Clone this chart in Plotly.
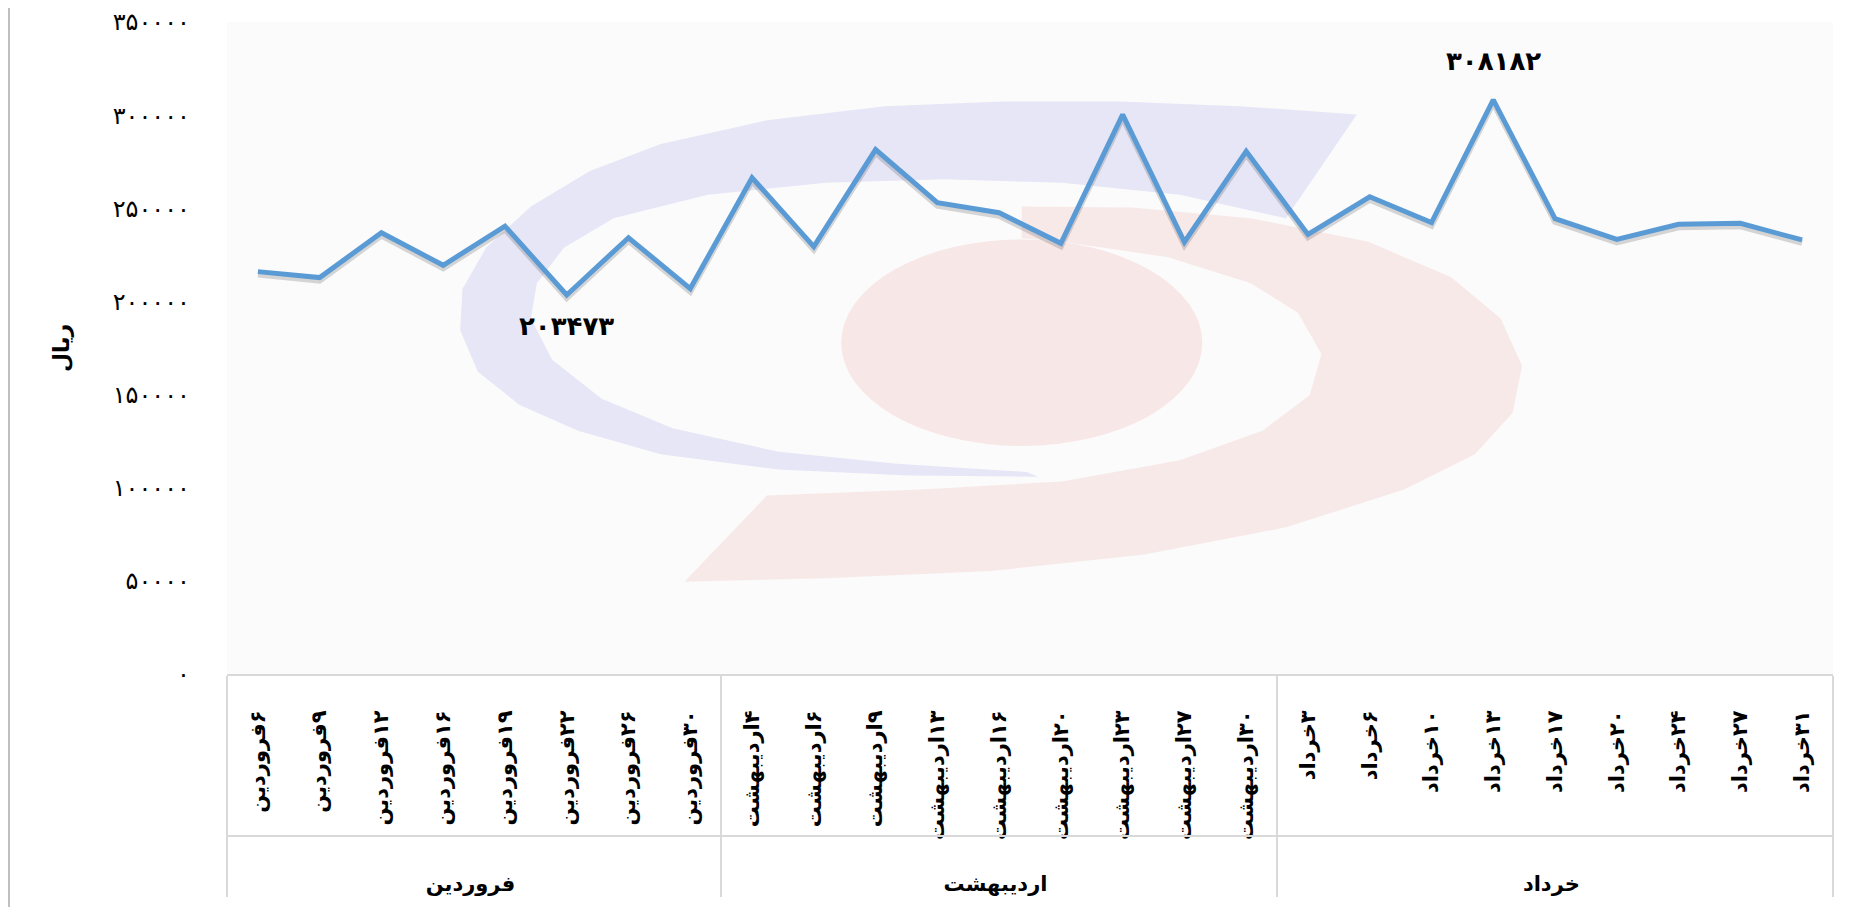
import plotly.graph_objects as go

# ---------------- data ----------------
month_names = ["فروردین", "اردیبهشت", "خرداد"]
month_counts = [8, 9, 9]
days = [6, 9, 12, 16, 19, 22, 26, 30,
        4, 6, 9, 13, 16, 20, 23, 27, 30,
        3, 6, 10, 13, 17, 20, 24, 27, 31]
prices = [216000, 212800, 236900, 219400, 240400, 203473, 234200, 206900,
          266400, 229400, 281500, 253000, 247600, 231200, 300300, 231900, 280600,
          236000, 256200, 242300, 308182, 244400, 233300, 241400, 241900, 233000]
y_ticks = [0, 50000, 100000, 150000, 200000, 250000, 300000, 350000]
labelled_points = [5, 20]          # indices of points carrying a data label
y_title = "ریال"

FA = str.maketrans("0123456789", "۰۱۲۳۴۵۶۷۸۹")
def fa(v):
    return str(v).translate(FA)

RLM = "\u200f"
PAD = "\u00a0" * 5 + RLM        # invisible trailing padding below each rotated label
months = [m for m, c in zip(month_names, month_counts) for _ in range(c)]
tick_labels = [f"{RLM}{fa(d)}{m}{PAD}" for d, m in zip(days, months)]
n_points = len(prices)

# ---------------- geometry helpers (styling only) ----------------
W, H = 1850, 907
OFF = 8                         # default body margin of the html page
PL, PR, PT, PB = 227, 1833, 22, 674   # plot area in screen pixels
S = 1850 / 1568.0
Y_MAX = 350000
SHADOW_PX = 3
shadow_shift = SHADOW_PX * Y_MAX / (PB - PT)

def px(xs):  # shrunk-pixel x -> paper
    return (xs * S - PL) / (PR - PL)

def py(ys):
    return (PB - ys * S) / (PB - PT)

def sx(x):  # screen px -> paper
    return (x - PL) / (PR - PL)

def sy(y):
    return (PB - y) / (PB - PT)

def path(pts):
    return "M " + " L ".join(f"{px(x):.4f},{py(y):.4f}" for x, y in pts) + " Z"

blue = [(1150, 97), (1050, 90), (950, 86), (850, 86), (750, 90), (650, 102), (560, 122),
        (500, 145), (450, 175), (412, 210), (392, 245), (390, 280), (405, 315), (440, 343),
        (490, 365), (560, 385), (660, 398), (770, 403), (880, 404),
        (870, 400), (760, 393), (660, 383), (570, 363), (510, 338), (468, 305), (450, 270),
        (455, 240), (478, 210), (520, 185), (600, 165), (700, 155), (800, 152), (900, 155),
        (1000, 165), (1090, 185)]
red = [(866, 175), (960, 176), (1060, 185), (1160, 205), (1230, 235), (1272, 270),
       (1290, 310), (1282, 350), (1250, 385), (1190, 415), (1090, 447), (970, 470),
       (840, 484), (700, 490), (580, 493),
       (650, 420), (780, 415), (900, 408), (1000, 390), (1070, 365), (1110, 335),
       (1120, 300), (1100, 265), (1060, 240), (990, 218), (900, 205), (866, 202)]

shapes = [
    dict(type="path", xref="paper", yref="paper", path=path(blue), layer="below",
         fillcolor="rgba(90,90,225,0.13)", line=dict(width=0)),
    dict(type="path", xref="paper", yref="paper", path=path(red), layer="below",
         fillcolor="rgba(225,60,60,0.09)", line=dict(width=0)),
    dict(type="circle", xref="paper", yref="paper", layer="below",
         x0=px(713), x1=px(1019), y0=py(378), y1=py(203),
         fillcolor="rgba(225,60,60,0.10)", line=dict(width=0)),
    # horizontal separator between tick labels and month labels
    dict(type="line", xref="paper", yref="paper", x0=0, x1=1,
         y0=sy(836), y1=sy(836), line=dict(color="#d9d9d9", width=2)),
    # left chart border
    dict(type="line", xref="paper", yref="paper",
         x0=sx(9), x1=sx(9), y0=sy(OFF), y1=sy(H + 20),
         line=dict(color="#bfbfbf", width=2)),
]

fig = go.Figure()
# soft drop shadow of the line (same data, drawn on a hidden axis offset by a few pixels)
fig.add_trace(go.Scatter(
    x=[months, tick_labels], y=prices, mode="lines", yaxis="y2",
    line=dict(color="rgba(60,60,60,0.20)", width=6), hoverinfo="skip", showlegend=False))
# main line, on a hidden overlay with the same range so it is drawn above the shadow
fig.add_trace(go.Scatter(
    x=[months, tick_labels], y=prices, mode="lines", yaxis="y3",
    line=dict(color="#5B9BD5", width=5), hoverinfo="skip", showlegend=False))

annotations = []
for i in labelled_points:
    above = prices[i] > 250000
    annotations.append(dict(
        x=i, y=prices[i], xref="x", yref="y", text=fa(prices[i]),
        showarrow=False, yshift=39 if above else -31,
        font=dict(family="DejaVu Sans", size=26, color="#000000", weight="bold")))
annotations.append(dict(
    x=sx(61), y=0.5, xref="paper", yref="paper", text=f"<b>{y_title}</b>",
    xanchor="center", yanchor="middle",
    textangle=-90, showarrow=False, font=dict(family="DejaVu Sans", size=22, color="#000")))

fig.update_layout(
    width=W, height=H,
    margin=dict(l=PL - OFF, r=W - (PR - OFF), t=PT - OFF, b=H - (PB - OFF)),
    paper_bgcolor="white", plot_bgcolor="#fbfbfb",
    shapes=shapes, annotations=annotations,
    xaxis=dict(type="multicategory", range=[-0.5, n_points - 0.5],
               showline=True, linecolor="#d9d9d9", linewidth=2,
               showgrid=False, zeroline=False, tickangle=-90, ticks="", automargin=False,
               showdividers=True, dividercolor="#d9d9d9", dividerwidth=2,
               ticklabelstandoff=26,
               tickfont=dict(family="DejaVu Sans", size=21, color="#000", weight="bold")),
    yaxis=dict(range=[0, Y_MAX], tickvals=y_ticks, ticktext=[fa(v) for v in y_ticks],
               showgrid=False, zeroline=False, showline=False, ticklabelstandoff=36,
               automargin=False,
               tickfont=dict(family="DejaVu Sans", size=24, color="#000")),
    yaxis2=dict(range=[shadow_shift, Y_MAX + shadow_shift], overlaying="y", visible=False,
                showgrid=False, zeroline=False, automargin=False),
    yaxis3=dict(range=[0, Y_MAX], overlaying="y", visible=False,
                showgrid=False, zeroline=False, automargin=False),
)

fig.write_html("out.html")
